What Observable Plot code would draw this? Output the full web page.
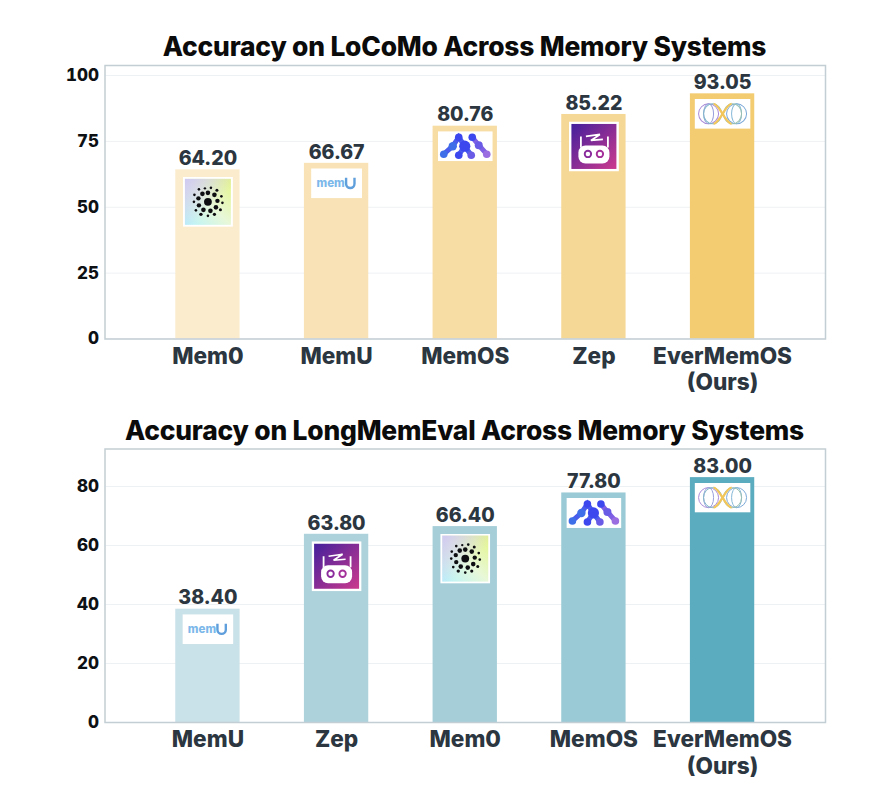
<!DOCTYPE html>
<html><head><meta charset="utf-8">
<script src="https://cdn.jsdelivr.net/npm/d3@7"></script>
<script src="https://cdn.jsdelivr.net/npm/@observablehq/plot@0.6"></script>
<style>
html,body{margin:0;padding:0;background:#fff;}
#page{width:886px;overflow:hidden;}
.title{font-family:Inter,sans-serif;font-weight:800;color:#0b0b0b;text-align:center;width:929px;font-size:26.4px;white-space:nowrap;letter-spacing:-0.2px;}
svg{display:block;}
</style></head><body><div id="page"></div>
<script>
const titleTop = "Accuracy on LoCoMo Across Memory Systems";
const titleBottom = "Accuracy on LongMemEval Across Memory Systems";
const systemsTop = ["Mem0","MemU","MemOS","Zep","EverMemOS\n(Ours)"];
const valuesTop = [64.20,66.67,80.76,85.22,93.05];
const colorsTop = ["#fbecce","#f9e3b6","#f7dca3","#f6d896","#f3cc72"];
const ticksTop = [0,25,50,75,100];
const systemsBottom = ["MemU","Zep","Mem0","MemOS","EverMemOS\n(Ours)"];
const valuesBottom = [38.40,63.80,66.40,77.80,83.00];
const colorsBottom = ["#c9e1e8","#aed2db","#a5ced9","#9acad5","#5cacc0"];
const ticksBottom = [0,20,40,60,80];

const uri = s => "data:image/svg+xml;charset=utf-8," + encodeURIComponent(s);

const mem0Dots = [[25,25,3.9],[25,16,2.3],[31.5,18,2.3],[34.5,24,2.2],[33,30.5,2.3],[27.5,34,2.3],[20.5,33,2.3],[16,28.5,2.2],[15.5,21.5,2.2],[19.5,17,2.3],[22,11.5,1.2],[28,11,1.3],[34,13.5,1.5],[38.5,19.5,1.3],[39.5,26,1.3],[37.5,33,1.5],[31.5,37.5,1.6],[25,39,1.3],[18,37.5,1.7],[13,33.5,1.3],[11,25,1.3],[11.5,18,1.3],[16,12.5,1.3]];
const logoMem0 = uri(`<svg xmlns="http://www.w3.org/2000/svg" viewBox="0 0 50 50"><defs><linearGradient id="a" x1="0" y1="1" x2="1" y2="0"><stop offset="0" stop-color="#b8f2fc"/><stop offset=".5" stop-color="#e8f8d8"/><stop offset="1" stop-color="#e4f58a"/></linearGradient><linearGradient id="b" x1="0" y1="0" x2=".6" y2=".6"><stop offset="0" stop-color="#cfc8f2"/><stop offset="1" stop-color="#cfc8f2" stop-opacity="0"/></linearGradient></defs><rect width="50" height="50" fill="#fff"/><rect x="2" y="2" width="46" height="46" fill="url(#a)"/><rect x="2" y="2" width="46" height="46" fill="url(#b)"/>${mem0Dots.map(d=>`<circle cx="${d[0]}" cy="${d[1]}" r="${d[2]}" fill="#0e0e12"/>`).join("")}</svg>`);
const logoMemU = uri(`<svg xmlns="http://www.w3.org/2000/svg" viewBox="0 0 51 30"><rect width="51" height="30" fill="#fff"/><path d="M35 9.5v6a4.2 4.2 0 0 0 8.4 0v-6" fill="none" stroke="#5f9fdc" stroke-width="2.4"/></svg>`);
const logoMemOS = uri(`<svg xmlns="http://www.w3.org/2000/svg" viewBox="0 0 55 30"><rect width="55" height="30" fill="#fff"/><g stroke="#4a5cec" stroke-width="5" stroke-linecap="round" fill="none"><path d="M6 23 L15 15 L21 6 L27 15 L33.5 24"/><path d="M21 24 L27 15"/></g><g stroke="#7f60e4" stroke-width="5" stroke-linecap="round" fill="none"><path d="M34.5 6 L41 14 L49 23"/></g><g fill="#3f6fe8"><circle cx="6" cy="23" r="3.8"/><circle cx="15" cy="15" r="4.2"/></g><g fill="#3c47ee"><circle cx="21" cy="6" r="3.8"/><circle cx="27" cy="15" r="5.6"/><circle cx="21" cy="24" r="3.8"/><circle cx="34.5" cy="6" r="3.8"/></g><g fill="#6a5be6"><circle cx="33.5" cy="24" r="3.8"/><circle cx="41" cy="14" r="4"/></g><circle cx="49" cy="23" r="3.8" fill="#9a6de0"/></svg>`);
const logoZep = uri(`<svg xmlns="http://www.w3.org/2000/svg" viewBox="0 0 50 50"><defs><linearGradient id="z" x1="0" y1="0" x2="1" y2="1"><stop offset="0" stop-color="#43209c"/><stop offset="1" stop-color="#cc3a8e"/></linearGradient></defs><rect width="50" height="50" fill="#fff"/><rect x="2.5" y="2.5" width="45" height="45" fill="url(#z)"/><path d="M12 15v11M39 15v11" stroke="#fff" stroke-width="1.8"/><path d="M17 15 L31 13 L22 19 L34 18" fill="none" stroke="#fff" stroke-width="1.7"/><rect x="9.5" y="24" width="31" height="18" rx="7" fill="#fff"/><circle cx="19" cy="32.5" r="3.2" fill="none" stroke="#8a2c9c" stroke-width="1.9"/><circle cx="31" cy="32.5" r="3.2" fill="none" stroke="#a4309a" stroke-width="1.9"/></svg>`);
const logoEver = uri(`<svg xmlns="http://www.w3.org/2000/svg" viewBox="0 0 56 30"><rect width="56" height="30" fill="#fff"/><g fill="none" stroke-width="1"><ellipse cx="14" cy="15" rx="10" ry="10" stroke="#a98ad8"/><ellipse cx="14" cy="15" rx="5" ry="10" stroke="#9aa0dc"/><ellipse cx="18" cy="15" rx="9" ry="10" stroke="#7fb8c8"/><ellipse cx="42" cy="15" rx="10" ry="10" stroke="#7aa8d8"/><ellipse cx="42" cy="15" rx="5" ry="10" stroke="#86b8d8"/><ellipse cx="38" cy="15" rx="9" ry="10" stroke="#9ac0b0"/></g><path d="M19 5 C25 5 31 25 37 25 M37 5 C31 5 25 25 19 25" fill="none" stroke="#f2c65a" stroke-width="2.2"/></svg>`);
const logos = {
  "Mem0": {src: logoMem0, w: 50, h: 50, dy: 32},
  "MemU": {src: logoMemU, w: 51, h: 30, dy: 20, word: "mem"},
  "MemOS": {src: logoMemOS, w: 55, h: 30, dy: 20},
  "Zep": {src: logoZep, w: 50, h: 50, dy: 32},
  "EverMemOS\n(Ours)": {src: logoEver, w: 56, h: 30, dy: 20}
};

const font = "Inter, sans-serif";
function chart(systems, values, colors, ticks, yMax, height, marginTop, marginBottom) {
  const rows = systems.map((s, i) => ({system: s, value: values[i], color: colors[i]}));
  return Plot.plot({
    width: 886, height, marginLeft: 104.5, marginRight: 61, marginTop, marginBottom,
    style: {fontFamily: font, background: "#fff", overflow: "visible"},
    x: {domain: systems, paddingInner: 0.5, paddingOuter: 0.55, round: false, label: null},
    y: {domain: [0, yMax], label: null},
    marks: [
      Plot.gridY(ticks, {stroke: "#eef1f3", strokeOpacity: 1, strokeWidth: 1}),
      Plot.barY(rows, {x: "system", y: "value", fill: "color"}),
      ...rows.map(r => Plot.image([r], {x: "system", y: "value", src: logos[r.system].src, width: logos[r.system].w, height: logos[r.system].h, dy: logos[r.system].dy, preserveAspectRatio: "none"})),
      Plot.text(rows.filter(r => logos[r.system].word), {x: "system", y: "value", text: r => logos[r.system].word, dy: 20, dx: -6, fontSize: 11.5, fontWeight: 800, fill: "#7db8ea"}),
      Plot.text(rows, {x: "system", y: "value", text: r => r.value.toFixed(2), dy: -11, fontSize: 19.5, fontWeight: 800, fill: "#2b3640"}),
      Plot.frame({stroke: "#c3ced4", strokeWidth: 1.5}),
      Plot.axisY(ticks, {tickSize: 0, tickPadding: 6, fontSize: 17, fontWeight: 800, fill: "#0d1114", label: null}),
      Plot.axisX({tickSize: 0, tickPadding: 6, fontSize: 22.6, fontWeight: 800, fill: "#2b3640", lineHeight: 1.17, label: null, textAnchor: "middle", lineAnchor: "top"})
    ]
  });
}
const page = document.getElementById("page");
function addTitle(t, h, lh) {
  const d = document.createElement("div");
  d.className = "title"; d.textContent = t;
  d.style.height = h + "px"; d.style.lineHeight = lh + "px";
  page.appendChild(d);
}
addTitle(titleTop, 60, 92);
page.appendChild(chart(systemsTop, valuesTop, colorsTop, ticksTop, 103.8, 340, 5, 61.5));
addTitle(titleBottom, 44, 60);
page.appendChild(chart(systemsBottom, valuesBottom, colorsBottom, ticksBottom, 92.7, 356, 4.5, 78));
</script></body></html>
